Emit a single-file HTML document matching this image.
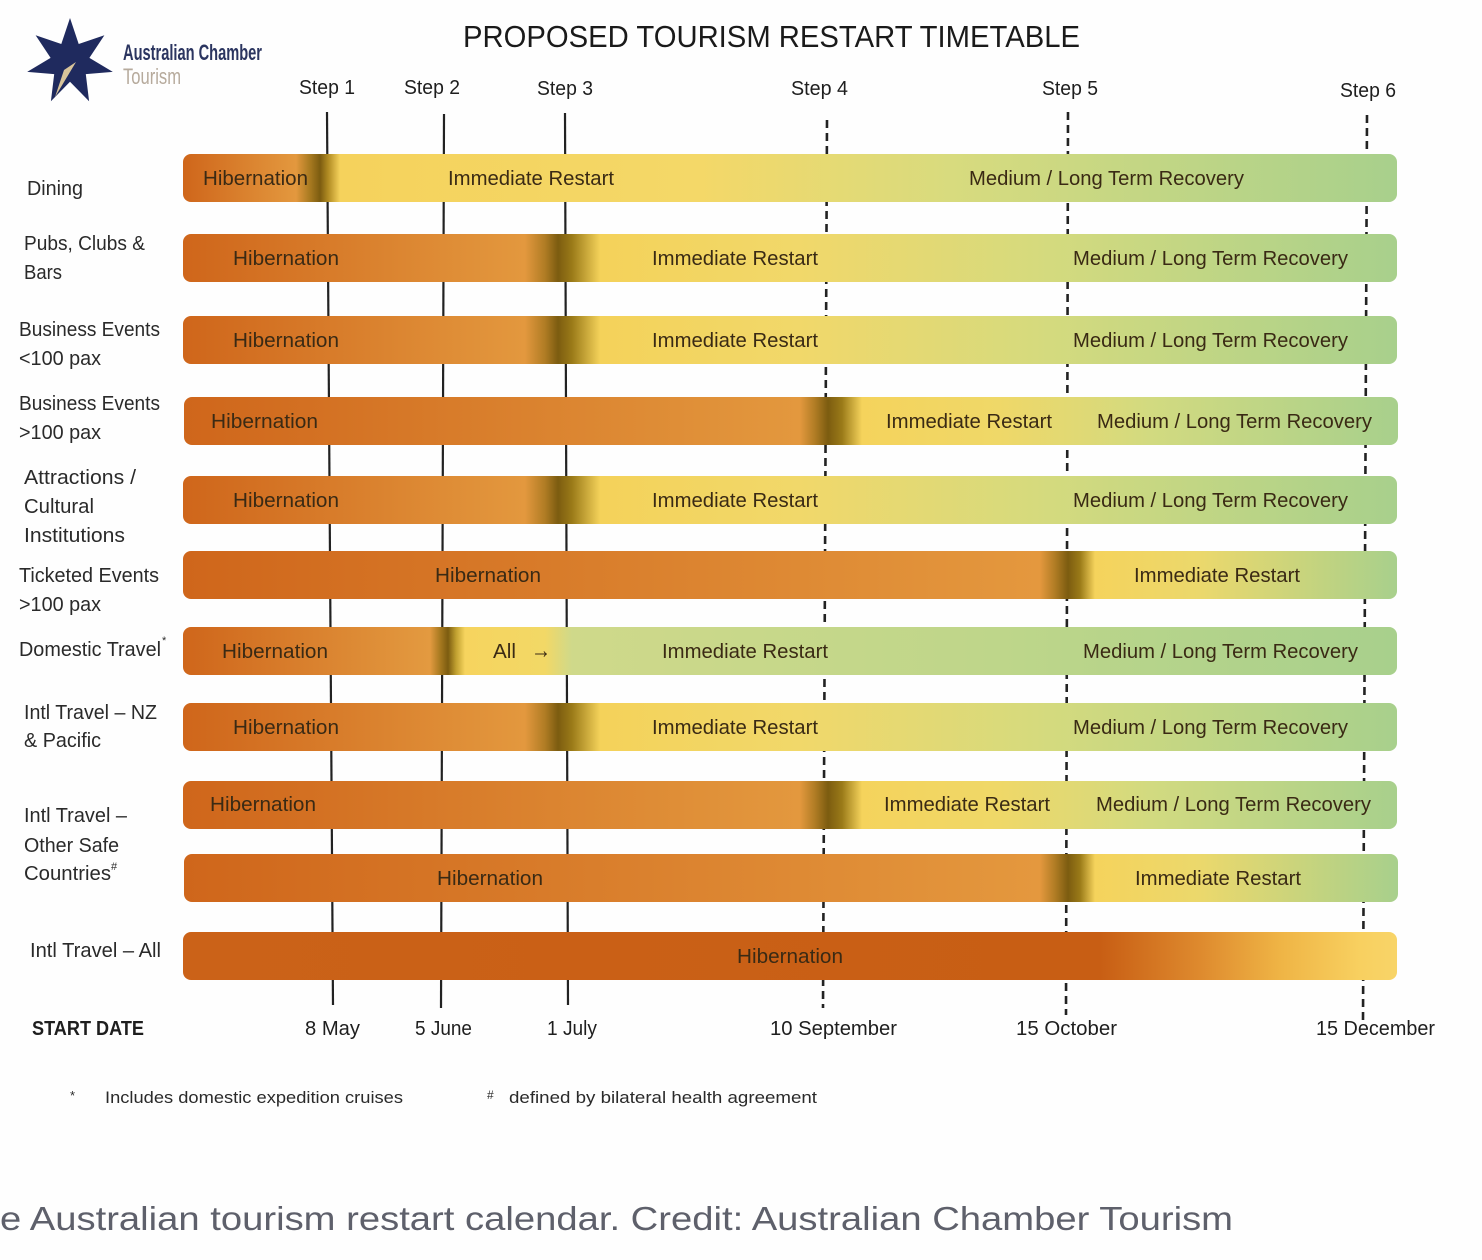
<!DOCTYPE html>
<html><head><meta charset="utf-8"><style>
html,body{margin:0;padding:0;background:#fff;}
svg{display:block;}
text{font-family:"Liberation Sans",sans-serif;}
.lbl{font-size:20px;fill:#2a2a2a;}
.bt{font-size:20px;fill:#3a2a14;}
.st{font-size:20px;fill:#1e1e1e;}
</style></head><body>
<svg width="1482" height="1260" viewBox="0 0 1482 1260" xmlns="http://www.w3.org/2000/svg">
<defs>
<linearGradient id="gD" gradientUnits="userSpaceOnUse" x1="183" y1="0" x2="1397" y2="0">
<stop offset="0" stop-color="#cf661b"/><stop offset="0.0931" stop-color="#e3983e"/>
<stop offset="0.1046" stop-color="#a87a20"/><stop offset="0.1129" stop-color="#7c5c10"/>
<stop offset="0.1194" stop-color="#b08a22"/><stop offset="0.1293" stop-color="#f5d25c"/>
<stop offset="0.4259" stop-color="#f4d868"/><stop offset="0.6318" stop-color="#d8db7e"/>
<stop offset="1" stop-color="#a8d08c"/></linearGradient>
<linearGradient id="gA" gradientUnits="userSpaceOnUse" x1="183" y1="0" x2="1397" y2="0">
<stop offset="0" stop-color="#cf661b"/><stop offset="0.2817" stop-color="#e3983e"/>
<stop offset="0.2982" stop-color="#b07c24"/><stop offset="0.3089" stop-color="#7c5c10"/>
<stop offset="0.3204" stop-color="#9a7a18"/><stop offset="0.3435" stop-color="#f4d25a"/>
<stop offset="0.5082" stop-color="#f1d86a"/><stop offset="0.7142" stop-color="#d4da7e"/>
<stop offset="1" stop-color="#a8d08c"/></linearGradient>
<linearGradient id="gB" gradientUnits="userSpaceOnUse" x1="183" y1="0" x2="1397" y2="0">
<stop offset="0" stop-color="#cf661b"/><stop offset="0.5082" stop-color="#e3983e"/>
<stop offset="0.5206" stop-color="#b07c24"/><stop offset="0.5313" stop-color="#7c5c10"/>
<stop offset="0.5428" stop-color="#9a7a18"/><stop offset="0.5593" stop-color="#f5d35c"/>
<stop offset="0.6730" stop-color="#efd868"/><stop offset="0.7965" stop-color="#d2da80"/>
<stop offset="1" stop-color="#a8d08c"/></linearGradient>
<linearGradient id="gC" gradientUnits="userSpaceOnUse" x1="183" y1="0" x2="1397" y2="0">
<stop offset="0" stop-color="#cf661b"/><stop offset="0.7059" stop-color="#e4983e"/>
<stop offset="0.7183" stop-color="#b07c24"/><stop offset="0.7290" stop-color="#7c5c10"/>
<stop offset="0.7389" stop-color="#9a7a18"/><stop offset="0.7512" stop-color="#f5d35c"/>
<stop offset="0.8377" stop-color="#ebd86c"/><stop offset="1" stop-color="#a8d08c"/></linearGradient>
<linearGradient id="gE" gradientUnits="userSpaceOnUse" x1="183" y1="0" x2="1397" y2="0">
<stop offset="0" stop-color="#cf661b"/><stop offset="0.2035" stop-color="#e39a40"/>
<stop offset="0.2117" stop-color="#a87a20"/><stop offset="0.2183" stop-color="#7c5c10"/>
<stop offset="0.2249" stop-color="#c0a030"/><stop offset="0.2323" stop-color="#f6d45e"/>
<stop offset="0.2982" stop-color="#f2d866"/><stop offset="0.3204" stop-color="#cfd98a"/>
<stop offset="0.6730" stop-color="#bed68a"/><stop offset="1" stop-color="#a8d08c"/></linearGradient>
<linearGradient id="gF" gradientUnits="userSpaceOnUse" x1="183" y1="0" x2="1397" y2="0">
<stop offset="0" stop-color="#cb6218"/><stop offset="0.7553" stop-color="#c85e14"/>
<stop offset="0.8377" stop-color="#de8a2e"/><stop offset="0.9036" stop-color="#efb445"/>
<stop offset="0.9695" stop-color="#f8d060"/><stop offset="1" stop-color="#f8d468"/></linearGradient>
</defs>
<rect width="1482" height="1260" fill="#fefefe"/>

<!-- logo -->
<polygon fill="#1f2a5e" points="70,18 78.7,44.0 104.4,35.2 89.4,57.9 112.8,71.9 85.8,74.1 89.1,101.2 70,81.8 50.9,101.2 54.2,74.1 27.2,71.9 50.6,57.9 35.6,35.2 61.3,44.0"/>
<polygon fill="#d8c49a" points="55,97 76,62 64,70"/>
<text x="123" y="60" font-size="22" font-weight="bold" fill="#2b3560" textLength="139" lengthAdjust="spacingAndGlyphs">Australian Chamber</text>
<text x="123" y="84" font-size="22" fill="#b6aa9c" textLength="58" lengthAdjust="spacingAndGlyphs">Tourism</text>

<!-- title -->
<text x="463" y="47" font-size="31" fill="#1a1a1a" textLength="617" lengthAdjust="spacingAndGlyphs">PROPOSED TOURISM RESTART TIMETABLE</text>

<!-- step labels -->
<text class="st" x="299" y="94" textLength="56" lengthAdjust="spacingAndGlyphs">Step 1</text>
<text class="st" x="404" y="94" textLength="56" lengthAdjust="spacingAndGlyphs">Step 2</text>
<text class="st" x="537" y="95" textLength="56" lengthAdjust="spacingAndGlyphs">Step 3</text>
<text class="st" x="791" y="95" textLength="57" lengthAdjust="spacingAndGlyphs">Step 4</text>
<text class="st" x="1042" y="95" textLength="56" lengthAdjust="spacingAndGlyphs">Step 5</text>
<text class="st" x="1340" y="97" textLength="56" lengthAdjust="spacingAndGlyphs">Step 6</text>

<!-- step lines -->
<g stroke="#222" fill="none">
<line x1="327" y1="112" x2="333" y2="1005" stroke-width="2.2"/>
<line x1="444" y1="114" x2="441" y2="1008" stroke-width="2.2"/>
<line x1="565" y1="113" x2="568" y2="1005" stroke-width="2.2"/>
<line x1="827" y1="120" x2="823" y2="1008" stroke-width="2.6" stroke-dasharray="8 5"/>
<line x1="1068" y1="112" x2="1066" y2="1015" stroke-width="2.6" stroke-dasharray="8 5"/>
<line x1="1367" y1="115" x2="1363" y2="1020" stroke-width="2.6" stroke-dasharray="8 5"/>
</g>

<!-- bars -->
<rect x="183" y="154" width="1214" height="48" rx="8" fill="url(#gD)"/>
<rect x="183" y="234" width="1214" height="48" rx="8" fill="url(#gA)"/>
<rect x="183" y="316" width="1214" height="48" rx="8" fill="url(#gA)"/>
<rect x="184" y="397" width="1214" height="48" rx="8" fill="url(#gB)"/>
<rect x="183" y="476" width="1214" height="48" rx="8" fill="url(#gA)"/>
<rect x="183" y="551" width="1214" height="48" rx="8" fill="url(#gC)"/>
<rect x="183" y="627" width="1214" height="48" rx="8" fill="url(#gE)"/>
<rect x="183" y="703" width="1214" height="48" rx="8" fill="url(#gA)"/>
<rect x="183" y="781" width="1214" height="48" rx="8" fill="url(#gB)"/>
<rect x="184" y="854" width="1214" height="48" rx="8" fill="url(#gC)"/>
<rect x="183" y="932" width="1214" height="48" rx="8" fill="url(#gF)"/>

<!-- bar texts -->
<g class="bt">
<text class="bt" x="203" y="185" textLength="105" lengthAdjust="spacingAndGlyphs">Hibernation</text>
<text class="bt" x="448" y="185" textLength="166" lengthAdjust="spacingAndGlyphs">Immediate Restart</text>
<text class="bt" x="969" y="185" textLength="275" lengthAdjust="spacingAndGlyphs">Medium / Long Term Recovery</text>

<text class="bt" x="233" y="265" textLength="106" lengthAdjust="spacingAndGlyphs">Hibernation</text>
<text class="bt" x="652" y="265" textLength="166" lengthAdjust="spacingAndGlyphs">Immediate Restart</text>
<text class="bt" x="1073" y="265" textLength="275" lengthAdjust="spacingAndGlyphs">Medium / Long Term Recovery</text>

<text class="bt" x="233" y="347" textLength="106" lengthAdjust="spacingAndGlyphs">Hibernation</text>
<text class="bt" x="652" y="347" textLength="166" lengthAdjust="spacingAndGlyphs">Immediate Restart</text>
<text class="bt" x="1073" y="347" textLength="275" lengthAdjust="spacingAndGlyphs">Medium / Long Term Recovery</text>

<text class="bt" x="211" y="428" textLength="107" lengthAdjust="spacingAndGlyphs">Hibernation</text>
<text class="bt" x="886" y="428" textLength="166" lengthAdjust="spacingAndGlyphs">Immediate Restart</text>
<text class="bt" x="1097" y="428" textLength="275" lengthAdjust="spacingAndGlyphs">Medium / Long Term Recovery</text>

<text class="bt" x="233" y="507" textLength="106" lengthAdjust="spacingAndGlyphs">Hibernation</text>
<text class="bt" x="652" y="507" textLength="166" lengthAdjust="spacingAndGlyphs">Immediate Restart</text>
<text class="bt" x="1073" y="507" textLength="275" lengthAdjust="spacingAndGlyphs">Medium / Long Term Recovery</text>

<text class="bt" x="435" y="582" textLength="106" lengthAdjust="spacingAndGlyphs">Hibernation</text>
<text class="bt" x="1134" y="582" textLength="166" lengthAdjust="spacingAndGlyphs">Immediate Restart</text>

<text class="bt" x="222" y="658" textLength="106" lengthAdjust="spacingAndGlyphs">Hibernation</text>
<text class="bt" x="493" y="658" textLength="23" lengthAdjust="spacingAndGlyphs">All</text>
<text x="531" y="658" font-size="24" fill="#3a2a14" textLength="20" lengthAdjust="spacingAndGlyphs">→</text>
<text class="bt" x="662" y="658" textLength="166" lengthAdjust="spacingAndGlyphs">Immediate Restart</text>
<text class="bt" x="1083" y="658" textLength="275" lengthAdjust="spacingAndGlyphs">Medium / Long Term Recovery</text>

<text class="bt" x="233" y="734" textLength="106" lengthAdjust="spacingAndGlyphs">Hibernation</text>
<text class="bt" x="652" y="734" textLength="166" lengthAdjust="spacingAndGlyphs">Immediate Restart</text>
<text class="bt" x="1073" y="734" textLength="275" lengthAdjust="spacingAndGlyphs">Medium / Long Term Recovery</text>

<text class="bt" x="210" y="811" textLength="106" lengthAdjust="spacingAndGlyphs">Hibernation</text>
<text class="bt" x="884" y="811" textLength="166" lengthAdjust="spacingAndGlyphs">Immediate Restart</text>
<text class="bt" x="1096" y="811" textLength="275" lengthAdjust="spacingAndGlyphs">Medium / Long Term Recovery</text>

<text class="bt" x="437" y="885" textLength="106" lengthAdjust="spacingAndGlyphs">Hibernation</text>
<text class="bt" x="1135" y="885" textLength="166" lengthAdjust="spacingAndGlyphs">Immediate Restart</text>

<text class="bt" x="737" y="963" textLength="106" lengthAdjust="spacingAndGlyphs">Hibernation</text>
</g>

<!-- row labels -->
<text class="lbl" x="27" y="195" textLength="56" lengthAdjust="spacingAndGlyphs">Dining</text>
<text class="lbl" x="24" y="250" textLength="121" lengthAdjust="spacingAndGlyphs">Pubs, Clubs &amp;</text>
<text class="lbl" x="24" y="279" textLength="38" lengthAdjust="spacingAndGlyphs">Bars</text>
<text class="lbl" x="19" y="336" textLength="141" lengthAdjust="spacingAndGlyphs">Business Events</text>
<text class="lbl" x="19" y="365" textLength="82" lengthAdjust="spacingAndGlyphs">&lt;100 pax</text>
<text class="lbl" x="19" y="410" textLength="141" lengthAdjust="spacingAndGlyphs">Business Events</text>
<text class="lbl" x="19" y="439" textLength="82" lengthAdjust="spacingAndGlyphs">&gt;100 pax</text>
<text class="lbl" x="24" y="484" textLength="112" lengthAdjust="spacingAndGlyphs">Attractions /</text>
<text class="lbl" x="24" y="513" textLength="70" lengthAdjust="spacingAndGlyphs">Cultural</text>
<text class="lbl" x="24" y="542" textLength="101" lengthAdjust="spacingAndGlyphs">Institutions</text>
<text class="lbl" x="19" y="582" textLength="140" lengthAdjust="spacingAndGlyphs">Ticketed Events</text>
<text class="lbl" x="19" y="611" textLength="82" lengthAdjust="spacingAndGlyphs">&gt;100 pax</text>
<text class="lbl" x="19" y="656" textLength="142" lengthAdjust="spacingAndGlyphs">Domestic Travel</text>
<text x="162" y="644" font-size="11" fill="#2a2a2a">*</text>
<text class="lbl" x="24" y="719" textLength="133" lengthAdjust="spacingAndGlyphs">Intl Travel – NZ</text>
<text class="lbl" x="24" y="747" textLength="77" lengthAdjust="spacingAndGlyphs">&amp; Pacific</text>
<text class="lbl" x="24" y="822" textLength="103" lengthAdjust="spacingAndGlyphs">Intl Travel –</text>
<text class="lbl" x="24" y="852" textLength="95" lengthAdjust="spacingAndGlyphs">Other Safe</text>
<text class="lbl" x="24" y="880" textLength="87" lengthAdjust="spacingAndGlyphs">Countries</text>
<text x="111" y="870" font-size="11" fill="#2a2a2a">#</text>
<text class="lbl" x="30" y="957" textLength="131" lengthAdjust="spacingAndGlyphs">Intl Travel – All</text>

<!-- dates -->
<text x="32" y="1035" font-size="20" font-weight="bold" fill="#1e1e1e" textLength="112" lengthAdjust="spacingAndGlyphs">START DATE</text>
<text class="st" x="305" y="1035" textLength="55" lengthAdjust="spacingAndGlyphs">8 May</text>
<text class="st" x="415" y="1035" textLength="57" lengthAdjust="spacingAndGlyphs">5 June</text>
<text class="st" x="547" y="1035" textLength="50" lengthAdjust="spacingAndGlyphs">1 July</text>
<text class="st" x="770" y="1035" textLength="127" lengthAdjust="spacingAndGlyphs">10 September</text>
<text class="st" x="1016" y="1035" textLength="101" lengthAdjust="spacingAndGlyphs">15 October</text>
<text class="st" x="1316" y="1035" textLength="119" lengthAdjust="spacingAndGlyphs">15 December</text>

<!-- footnotes -->
<text x="70" y="1100" font-size="13" fill="#2a2a2a">*</text>
<text x="105" y="1103" font-size="17" fill="#2a2a2a" textLength="298" lengthAdjust="spacingAndGlyphs">Includes domestic expedition cruises</text>
<text x="487" y="1099" font-size="12" fill="#2a2a2a">#</text>
<text x="509" y="1103" font-size="17" fill="#2a2a2a" textLength="308" lengthAdjust="spacingAndGlyphs">defined by bilateral health agreement</text>

<!-- caption -->
<text x="0" y="1230" font-size="33" fill="#5e606b" textLength="1233" lengthAdjust="spacingAndGlyphs">e Australian tourism restart calendar. Credit: Australian Chamber Tourism</text>
</svg>
</body></html>
